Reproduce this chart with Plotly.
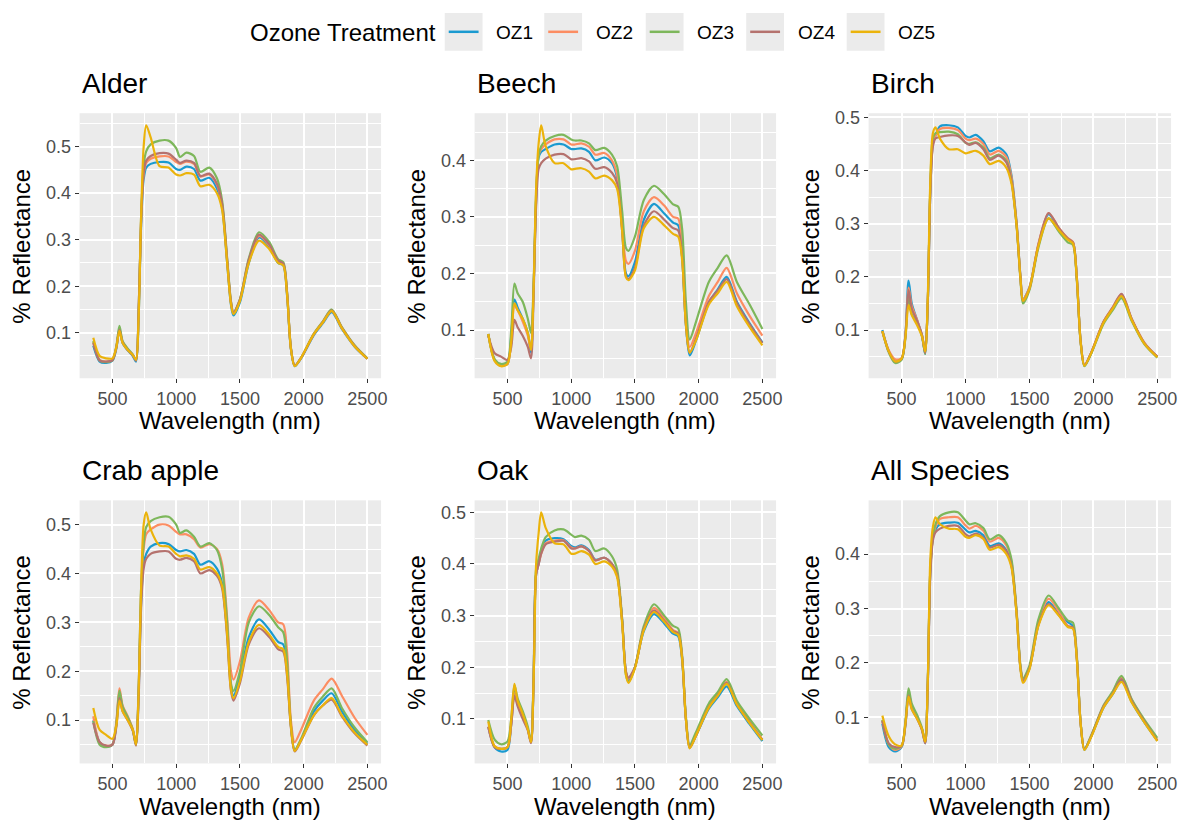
import plotly.graph_objects as go

# ---------------- data ----------------
wavelength = [350, 400, 450, 500, 530, 555, 580, 620, 660, 685, 705, 725, 745, 765, 800,
              870, 940, 1000, 1030, 1080, 1140, 1190, 1260, 1320, 1360, 1400, 1430, 1450,
              1500, 1570, 1650, 1730, 1800, 1840, 1870, 1900, 1930, 1980, 2080, 2150, 2220,
              2300, 2400, 2500]

treatments = ["OZ1", "OZ2", "OZ3", "OZ4", "OZ5"]
species = ["Alder", "Beech", "Birch", "Crab apple", "Oak", "All Species"]

alder_oz1 = [0.072, 0.038, 0.035, 0.040, 0.065, 0.108, 0.078, 0.062, 0.050, 0.038, 0.13, 0.33, 0.43, 0.455, 0.463, 0.467, 0.466, 0.452, 0.450, 0.457, 0.452, 0.427, 0.433, 0.41, 0.37, 0.25, 0.16, 0.137, 0.165, 0.25, 0.305, 0.285, 0.25, 0.245, 0.18, 0.065, 0.028, 0.045, 0.095, 0.12, 0.144, 0.108, 0.07, 0.044]
alder_oz2 = [0.080, 0.042, 0.038, 0.042, 0.068, 0.107, 0.080, 0.064, 0.052, 0.041, 0.14, 0.34, 0.44, 0.465, 0.474, 0.479, 0.479, 0.467, 0.463, 0.468, 0.463, 0.436, 0.440, 0.418, 0.375, 0.255, 0.165, 0.142, 0.170, 0.255, 0.308, 0.288, 0.253, 0.248, 0.185, 0.067, 0.029, 0.046, 0.097, 0.122, 0.147, 0.110, 0.071, 0.044]
alder_oz3 = [0.082, 0.040, 0.037, 0.041, 0.070, 0.115, 0.082, 0.066, 0.053, 0.041, 0.14, 0.35, 0.46, 0.49, 0.505, 0.513, 0.513, 0.497, 0.478, 0.487, 0.480, 0.446, 0.455, 0.432, 0.385, 0.26, 0.168, 0.143, 0.172, 0.26, 0.316, 0.295, 0.258, 0.252, 0.188, 0.068, 0.029, 0.046, 0.098, 0.124, 0.150, 0.112, 0.073, 0.045]
alder_oz4 = [0.078, 0.040, 0.038, 0.041, 0.067, 0.106, 0.079, 0.063, 0.052, 0.040, 0.14, 0.34, 0.445, 0.47, 0.48, 0.486, 0.485, 0.472, 0.465, 0.470, 0.465, 0.437, 0.442, 0.420, 0.378, 0.257, 0.166, 0.143, 0.171, 0.257, 0.311, 0.290, 0.255, 0.249, 0.186, 0.067, 0.029, 0.046, 0.097, 0.123, 0.148, 0.111, 0.072, 0.044]
alder_oz5 = [0.089, 0.050, 0.045, 0.045, 0.068, 0.104, 0.078, 0.063, 0.052, 0.042, 0.13, 0.35, 0.50, 0.546, 0.52, 0.458, 0.455, 0.440, 0.438, 0.443, 0.440, 0.415, 0.418, 0.400, 0.365, 0.25, 0.162, 0.140, 0.168, 0.25, 0.298, 0.280, 0.250, 0.245, 0.182, 0.066, 0.028, 0.046, 0.097, 0.122, 0.147, 0.110, 0.071, 0.044]

beech_oz1 = [0.093, 0.047, 0.038, 0.040, 0.09, 0.154, 0.14, 0.12, 0.095, 0.06, 0.17, 0.33, 0.405, 0.415, 0.42, 0.428, 0.428, 0.42, 0.42, 0.421, 0.415, 0.40, 0.405, 0.395, 0.37, 0.28, 0.20, 0.195, 0.22, 0.295, 0.323, 0.306, 0.29, 0.285, 0.23, 0.11, 0.055, 0.082, 0.148, 0.172, 0.194, 0.15, 0.112, 0.078]
beech_oz2 = [0.093, 0.047, 0.037, 0.040, 0.08, 0.144, 0.135, 0.115, 0.09, 0.065, 0.17, 0.33, 0.41, 0.42, 0.428, 0.437, 0.437, 0.428, 0.428, 0.43, 0.424, 0.41, 0.413, 0.40, 0.375, 0.285, 0.222, 0.217, 0.24, 0.31, 0.335, 0.32, 0.30, 0.297, 0.25, 0.12, 0.07, 0.095, 0.16, 0.185, 0.21, 0.165, 0.125, 0.09]
beech_oz3 = [0.093, 0.048, 0.040, 0.044, 0.10, 0.182, 0.165, 0.15, 0.12, 0.095, 0.18, 0.34, 0.41, 0.425, 0.435, 0.443, 0.445, 0.437, 0.435, 0.435, 0.43, 0.418, 0.422, 0.41, 0.39, 0.31, 0.245, 0.24, 0.265, 0.33, 0.355, 0.34, 0.322, 0.318, 0.28, 0.15, 0.083, 0.115, 0.185, 0.21, 0.232, 0.185, 0.145, 0.102]
beech_oz4 = [0.09, 0.059, 0.053, 0.047, 0.07, 0.118, 0.105, 0.09, 0.07, 0.05, 0.16, 0.32, 0.385, 0.395, 0.403, 0.41, 0.411, 0.402, 0.402, 0.404, 0.398, 0.385, 0.388, 0.378, 0.36, 0.275, 0.195, 0.19, 0.21, 0.285, 0.31, 0.295, 0.28, 0.276, 0.23, 0.11, 0.06, 0.085, 0.15, 0.17, 0.19, 0.148, 0.11, 0.077]
beech_oz5 = [0.093, 0.045, 0.036, 0.040, 0.08, 0.147, 0.135, 0.12, 0.095, 0.065, 0.17, 0.35, 0.43, 0.462, 0.425, 0.395, 0.395, 0.384, 0.385, 0.386, 0.38, 0.368, 0.373, 0.365, 0.35, 0.275, 0.193, 0.188, 0.205, 0.28, 0.30, 0.285, 0.27, 0.265, 0.225, 0.11, 0.06, 0.082, 0.145, 0.165, 0.185, 0.142, 0.105, 0.073]

birch_oz1 = [0.10, 0.06, 0.04, 0.045, 0.09, 0.193, 0.15, 0.12, 0.09, 0.055, 0.15, 0.36, 0.45, 0.465, 0.483, 0.485, 0.481, 0.465, 0.462, 0.467, 0.455, 0.436, 0.443, 0.43, 0.39, 0.30, 0.20, 0.158, 0.18, 0.26, 0.318, 0.29, 0.272, 0.265, 0.2, 0.08, 0.033, 0.055, 0.115, 0.14, 0.165, 0.12, 0.075, 0.05]
birch_oz2 = [0.098, 0.062, 0.045, 0.047, 0.09, 0.18, 0.145, 0.12, 0.09, 0.058, 0.15, 0.36, 0.45, 0.465, 0.478, 0.48, 0.476, 0.46, 0.457, 0.46, 0.45, 0.43, 0.437, 0.425, 0.387, 0.30, 0.20, 0.157, 0.18, 0.262, 0.32, 0.292, 0.273, 0.266, 0.2, 0.08, 0.034, 0.056, 0.116, 0.142, 0.167, 0.121, 0.076, 0.05]
birch_oz3 = [0.098, 0.058, 0.038, 0.044, 0.085, 0.165, 0.13, 0.115, 0.088, 0.055, 0.15, 0.37, 0.46, 0.47, 0.472, 0.473, 0.468, 0.452, 0.45, 0.453, 0.443, 0.423, 0.43, 0.418, 0.38, 0.295, 0.195, 0.15, 0.175, 0.255, 0.31, 0.285, 0.265, 0.26, 0.195, 0.078, 0.032, 0.054, 0.112, 0.137, 0.16, 0.117, 0.073, 0.048]
birch_oz4 = [0.098, 0.06, 0.041, 0.046, 0.088, 0.175, 0.14, 0.118, 0.09, 0.057, 0.15, 0.36, 0.445, 0.46, 0.463, 0.466, 0.465, 0.453, 0.448, 0.452, 0.44, 0.42, 0.428, 0.415, 0.38, 0.297, 0.198, 0.155, 0.178, 0.26, 0.32, 0.292, 0.272, 0.265, 0.2, 0.08, 0.034, 0.056, 0.116, 0.142, 0.168, 0.121, 0.075, 0.05]
birch_oz5 = [0.098, 0.06, 0.041, 0.046, 0.085, 0.147, 0.128, 0.11, 0.088, 0.06, 0.16, 0.38, 0.47, 0.481, 0.46, 0.44, 0.44, 0.432, 0.434, 0.437, 0.428, 0.412, 0.418, 0.405, 0.375, 0.295, 0.197, 0.155, 0.178, 0.258, 0.31, 0.288, 0.27, 0.263, 0.198, 0.079, 0.033, 0.055, 0.114, 0.14, 0.164, 0.119, 0.074, 0.049]

crab_oz1 = [0.10, 0.055, 0.047, 0.05, 0.09, 0.155, 0.125, 0.105, 0.08, 0.05, 0.15, 0.34, 0.42, 0.44, 0.455, 0.462, 0.46, 0.448, 0.445, 0.448, 0.44, 0.418, 0.425, 0.41, 0.38, 0.28, 0.17, 0.15, 0.19, 0.27, 0.306, 0.285, 0.26, 0.255, 0.2, 0.09, 0.038, 0.06, 0.118, 0.14, 0.155, 0.118, 0.08, 0.052]
crab_oz2 = [0.108, 0.055, 0.048, 0.05, 0.095, 0.165, 0.13, 0.108, 0.082, 0.052, 0.16, 0.36, 0.45, 0.48, 0.49, 0.50, 0.498, 0.485, 0.48, 0.48, 0.47, 0.453, 0.46, 0.45, 0.42, 0.31, 0.2, 0.183, 0.22, 0.31, 0.345, 0.325, 0.30, 0.296, 0.24, 0.1, 0.055, 0.08, 0.14, 0.163, 0.185, 0.15, 0.105, 0.07]
crab_oz3 = [0.098, 0.05, 0.045, 0.05, 0.092, 0.16, 0.128, 0.106, 0.08, 0.05, 0.16, 0.37, 0.46, 0.495, 0.507, 0.515, 0.516, 0.5, 0.483, 0.488, 0.475, 0.455, 0.462, 0.448, 0.41, 0.30, 0.175, 0.16, 0.2, 0.30, 0.333, 0.315, 0.29, 0.28, 0.22, 0.09, 0.04, 0.062, 0.125, 0.148, 0.165, 0.125, 0.085, 0.055]
crab_oz4 = [0.095, 0.055, 0.048, 0.05, 0.085, 0.145, 0.118, 0.1, 0.078, 0.048, 0.14, 0.33, 0.41, 0.43, 0.44, 0.445, 0.445, 0.43, 0.428, 0.432, 0.425, 0.40, 0.407, 0.395, 0.37, 0.27, 0.16, 0.14, 0.175, 0.255, 0.288, 0.27, 0.245, 0.24, 0.19, 0.085, 0.036, 0.058, 0.11, 0.13, 0.142, 0.108, 0.073, 0.048]
crab_oz5 = [0.125, 0.08, 0.07, 0.062, 0.088, 0.14, 0.118, 0.1, 0.08, 0.05, 0.15, 0.37, 0.50, 0.525, 0.49, 0.457, 0.455, 0.44, 0.435, 0.437, 0.43, 0.408, 0.413, 0.40, 0.375, 0.275, 0.163, 0.145, 0.18, 0.26, 0.295, 0.275, 0.25, 0.245, 0.195, 0.088, 0.037, 0.059, 0.11, 0.13, 0.145, 0.11, 0.075, 0.05]

oak_oz1 = [0.085, 0.045, 0.037, 0.04, 0.09, 0.155, 0.13, 0.105, 0.08, 0.055, 0.17, 0.38, 0.40, 0.425, 0.445, 0.45, 0.448, 0.435, 0.432, 0.436, 0.427, 0.408, 0.412, 0.40, 0.38, 0.29, 0.19, 0.175, 0.2, 0.27, 0.303, 0.285, 0.265, 0.26, 0.215, 0.1, 0.045, 0.068, 0.12, 0.142, 0.163, 0.125, 0.09, 0.057]
oak_oz2 = [0.085, 0.047, 0.042, 0.045, 0.09, 0.15, 0.128, 0.105, 0.08, 0.055, 0.17, 0.38, 0.40, 0.42, 0.44, 0.445, 0.446, 0.432, 0.43, 0.434, 0.425, 0.407, 0.412, 0.40, 0.38, 0.29, 0.19, 0.178, 0.2, 0.275, 0.315, 0.295, 0.272, 0.266, 0.22, 0.1, 0.046, 0.07, 0.125, 0.148, 0.172, 0.13, 0.095, 0.06]
oak_oz3 = [0.098, 0.06, 0.051, 0.056, 0.1, 0.165, 0.14, 0.115, 0.085, 0.058, 0.18, 0.39, 0.41, 0.43, 0.452, 0.465, 0.467, 0.457, 0.452, 0.455, 0.447, 0.425, 0.43, 0.415, 0.39, 0.295, 0.185, 0.172, 0.2, 0.28, 0.322, 0.3, 0.28, 0.275, 0.225, 0.105, 0.05, 0.075, 0.13, 0.152, 0.177, 0.135, 0.1, 0.068]
oak_oz4 = [0.085, 0.045, 0.042, 0.045, 0.09, 0.145, 0.125, 0.1, 0.078, 0.053, 0.17, 0.38, 0.40, 0.42, 0.438, 0.443, 0.445, 0.43, 0.43, 0.434, 0.425, 0.407, 0.412, 0.40, 0.38, 0.29, 0.192, 0.18, 0.2, 0.275, 0.31, 0.29, 0.27, 0.265, 0.22, 0.1, 0.044, 0.068, 0.123, 0.146, 0.17, 0.128, 0.093, 0.06]
oak_oz5 = [0.095, 0.047, 0.042, 0.045, 0.1, 0.168, 0.135, 0.11, 0.08, 0.055, 0.17, 0.40, 0.46, 0.50, 0.47, 0.44, 0.438, 0.42, 0.42, 0.425, 0.418, 0.40, 0.405, 0.395, 0.375, 0.285, 0.185, 0.17, 0.198, 0.272, 0.307, 0.288, 0.268, 0.263, 0.218, 0.1, 0.043, 0.068, 0.122, 0.145, 0.168, 0.128, 0.092, 0.059]

all_oz1 = [0.088, 0.045, 0.037, 0.045, 0.085, 0.145, 0.12, 0.1, 0.078, 0.052, 0.16, 0.37, 0.43, 0.445, 0.455, 0.458, 0.458, 0.445, 0.44, 0.443, 0.435, 0.415, 0.42, 0.407, 0.38, 0.29, 0.19, 0.168, 0.19, 0.27, 0.312, 0.29, 0.275, 0.268, 0.21, 0.09, 0.04, 0.063, 0.118, 0.142, 0.168, 0.128, 0.09, 0.057]
all_oz2 = [0.095, 0.05, 0.04, 0.046, 0.088, 0.142, 0.118, 0.1, 0.078, 0.053, 0.16, 0.37, 0.43, 0.45, 0.465, 0.468, 0.468, 0.453, 0.447, 0.452, 0.443, 0.423, 0.43, 0.416, 0.385, 0.292, 0.192, 0.17, 0.192, 0.275, 0.318, 0.295, 0.268, 0.265, 0.21, 0.09, 0.041, 0.064, 0.12, 0.145, 0.174, 0.132, 0.093, 0.058]
all_oz3 = [0.095, 0.05, 0.042, 0.047, 0.092, 0.153, 0.125, 0.105, 0.08, 0.055, 0.165, 0.37, 0.43, 0.455, 0.47, 0.477, 0.477, 0.462, 0.455, 0.457, 0.448, 0.427, 0.435, 0.42, 0.39, 0.295, 0.195, 0.172, 0.195, 0.28, 0.324, 0.3, 0.278, 0.274, 0.215, 0.092, 0.042, 0.065, 0.122, 0.147, 0.176, 0.133, 0.095, 0.062]
all_oz4 = [0.093, 0.052, 0.045, 0.047, 0.085, 0.14, 0.115, 0.098, 0.076, 0.052, 0.16, 0.36, 0.425, 0.44, 0.447, 0.452, 0.452, 0.437, 0.433, 0.438, 0.43, 0.412, 0.417, 0.405, 0.378, 0.29, 0.19, 0.167, 0.19, 0.27, 0.308, 0.288, 0.267, 0.265, 0.21, 0.09, 0.041, 0.063, 0.12, 0.143, 0.17, 0.13, 0.092, 0.057]
all_oz5 = [0.103, 0.065, 0.05, 0.048, 0.088, 0.138, 0.115, 0.098, 0.078, 0.055, 0.165, 0.39, 0.45, 0.468, 0.455, 0.447, 0.446, 0.432, 0.43, 0.435, 0.428, 0.408, 0.413, 0.4, 0.375, 0.287, 0.188, 0.163, 0.188, 0.268, 0.306, 0.287, 0.266, 0.263, 0.208, 0.09, 0.04, 0.062, 0.118, 0.142, 0.165, 0.127, 0.09, 0.056]

x_ticks = [500, 1000, 1500, 2000, 2500]

# ---------------- styling ----------------
W_PX, H_PX = 1191, 824
colors = ["#1A9AD0", "#FC8D62", "#7DB75B", "#B5726E", "#EBB30B"]
FONT = "Liberation Sans, Arial, sans-serif"

panel_data = {
    "Alder": [alder_oz1, alder_oz2, alder_oz3, alder_oz4, alder_oz5],
    "Beech": [beech_oz1, beech_oz2, beech_oz3, beech_oz4, beech_oz5],
    "Birch": [birch_oz1, birch_oz2, birch_oz3, birch_oz4, birch_oz5],
    "Crab apple": [crab_oz1, crab_oz2, crab_oz3, crab_oz4, crab_oz5],
    "Oak": [oak_oz1, oak_oz2, oak_oz3, oak_oz4, oak_oz5],
    "All Species": [all_oz1, all_oz2, all_oz3, all_oz4, all_oz5],
}

col_px = [(80, 383), (477, 780), (873, 1177)]
row_px = [(108, 375), (498, 763)]


def px(x):
    return x / W_PX


def py(y):
    return 1 - y / H_PX


fig = go.Figure()
annotations = []
shapes = []

xmin, xmax = min(wavelength), max(wavelength)
xpad = 0.05 * (xmax - xmin)

for i, sp in enumerate(species):
    r, c = divmod(i, 3)
    x0, x1 = col_px[c]
    y0, y1 = row_px[r]
    ax = "" if i == 0 else str(i + 1)
    series = panel_data[sp]
    lo = min(min(s) for s in series)
    hi = max(max(s) for s in series)
    ypad = 0.05 * (hi - lo)
    for t, (name, vals) in enumerate(zip(treatments, series)):
        fig.add_trace(go.Scatter(
            x=wavelength, y=vals, mode="lines", name=name,
            line=dict(color=colors[t], width=2.2, shape="spline", smoothing=0.8),
            xaxis="x" + ax, yaxis="y" + ax, showlegend=False,
        ))
    common = dict(
        showline=False, zeroline=False, showgrid=True, gridcolor="white", gridwidth=1.8,
        ticks="outside", ticklen=4, tickwidth=1.4, tickcolor="#333333",
        tickfont=dict(family=FONT, size=18, color="#4D4D4D"),
    )
    fig.layout["xaxis" + ax] = dict(
        domain=[px(x0), px(x1)], anchor="y" + ax,
        range=[xmin - xpad, xmax + xpad], tickvals=x_ticks,
        minor=dict(dtick=250, tick0=0, showgrid=True, gridcolor="white", gridwidth=0.9, ticks=""),
        **common)
    fig.layout["yaxis" + ax] = dict(
        domain=[py(y1), py(y0)], anchor="x" + ax,
        range=[lo - ypad, hi + ypad], dtick=0.1, tick0=0, tickformat=".1f",
        minor=dict(dtick=0.05, tick0=0, showgrid=True, gridcolor="white", gridwidth=0.9, ticks=""),
        **common)
    # panel title
    annotations.append(dict(text=sp, x=px(x0), y=py(y0 - 30), xref="paper", yref="paper",
                            xanchor="left", yanchor="middle", showarrow=False,
                            font=dict(family=FONT, size=28, color="black")))
    # axis titles
    annotations.append(dict(text="Wavelength (nm)", x=px((x0 + x1) / 2), y=py(y1 + 43),
                            xref="paper", yref="paper", xanchor="center", yanchor="middle",
                            showarrow=False, font=dict(family=FONT, size=24, color="black")))
    annotations.append(dict(text="% Reflectance", x=px(x0 - 58), y=py((y0 + y1) / 2),
                            xref="paper", yref="paper", xanchor="center", yanchor="middle",
                            textangle=-90, showarrow=False,
                            font=dict(family=FONT, size=24, color="black")))

# ---------------- legend (top, ggplot style) ----------------
annotations.append(dict(text="Ozone Treatment", x=px(249), y=py(27), xref="paper", yref="paper",
                        xanchor="left", yanchor="middle", showarrow=False,
                        font=dict(family=FONT, size=24, color="black")))
key_x = [447, 547, 649, 750, 851]
for t, name in enumerate(treatments):
    kx = key_x[t]
    shapes.append(dict(type="rect", xref="paper", yref="paper",
                       x0=px(kx), x1=px(kx + 38), y0=py(45), y1=py(7),
                       fillcolor="#EBEBEB", line=dict(width=0)))
    shapes.append(dict(type="line", xref="paper", yref="paper",
                       x0=px(kx + 4), x1=px(kx + 34), y0=py(26), y1=py(26),
                       line=dict(color=colors[t], width=2.5)))
    annotations.append(dict(text=name, x=px(kx + 50), y=py(27), xref="paper", yref="paper",
                            xanchor="left", yanchor="middle", showarrow=False,
                            font=dict(family=FONT, size=19, color="black")))

fig.update_layout(
    width=W_PX, height=H_PX, autosize=False,
    margin=dict(l=0, r=0, t=0, b=0),
    paper_bgcolor="white", plot_bgcolor="#EBEBEB",
    font=dict(family=FONT, color="black"),
    annotations=annotations, shapes=shapes,
    showlegend=False,
)

fig.write_html(
    "out.html",
    config={"displayModeBar": False},
    post_script="document.body.style.margin='0';document.body.style.overflow='hidden';",
)
